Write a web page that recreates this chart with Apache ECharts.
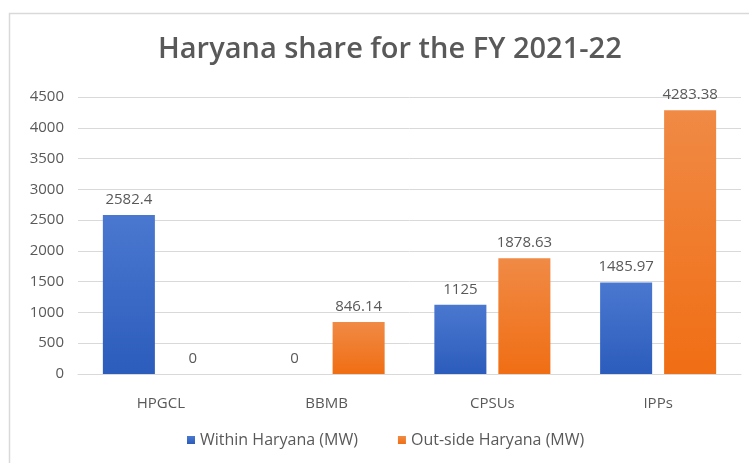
<!DOCTYPE html>
<html>
<head>
<meta charset="utf-8">
<script src="https://cdn.jsdelivr.net/npm/echarts@6/dist/echarts.min.js"></script>
<style>
  html, body { margin: 0; padding: 0; background: #fff; }
  #chart { width: 749px; height: 463px; }
</style>
</head>
<body>
<div id="chart"></div>
<script>
const categories = ["HPGCL", "BBMB", "CPSUs", "IPPs"];
const withinHaryana = [2582.4, 0, 1125, 1485.97];
const outsideHaryana = [0, 846.14, 1878.63, 4283.38];
const seriesNames = ["Within Haryana (MW)", "Out-side Haryana (MW)"];

const chart = echarts.init(document.getElementById("chart"));
const textColor = "#595959";
const font = "Open Sans";

function grad(top, bottom) {
  return new echarts.graphic.LinearGradient(0, 0, 0, 1, [
    { offset: 0, color: top },
    { offset: 1, color: bottom },
  ]);
}

const label = {
  show: true,
  position: "top",
  distance: 8,
  color: textColor,
  fontFamily: font,
  fontSize: 15,
};

chart.setOption({
  backgroundColor: "#fff",
  animation: false,
  graphic: [
    {
      type: "rect",
      shape: { x: 9.5, y: 13.5, width: 760, height: 470 },
      style: { fill: "none", stroke: "#d9d9d9", lineWidth: 1.5 },
      silent: true,
    },
  ],
  title: {
    text: "Haryana share for the FY 2021-22",
    left: 153,
    top: 30,
    textStyle: {
      color: textColor,
      fontFamily: font,
      fontWeight: 600,
      fontSize: 29,
    },
  },
  legend: {
    top: 427,
    left: 182,
    itemWidth: 8,
    itemHeight: 8,
    itemGap: 40,
    icon: "rect",
    textStyle: { color: textColor, fontFamily: font, fontSize: 16 },
    data: seriesNames,
  },
  grid: { left: 78, right: 8, top: 97, bottom: 89 },
  xAxis: {
    type: "category",
    data: categories,
    axisTick: { show: false },
    axisLine: { lineStyle: { color: "#d9d9d9" } },
    axisLabel: { color: textColor, fontFamily: font, fontSize: 15, margin: 22 },
  },
  yAxis: {
    type: "value",
    min: 0,
    max: 4500,
    interval: 500,
    axisLine: { show: false },
    axisTick: { show: false },
    axisLabel: {
      color: textColor,
      fontFamily: font,
      fontSize: 15,
      margin: 14,
      formatter: (v) => String(v),
    },
    splitLine: { lineStyle: { color: "#d9d9d9" } },
  },
  series: [
    {
      name: seriesNames[0],
      type: "bar",
      data: withinHaryana,
      barGap: "23%",
      barCategoryGap: "30%",
      itemStyle: { color: grad("#4a78d0", "#2c5cbc") },
      label: label,
    },
    {
      name: seriesNames[1],
      type: "bar",
      data: outsideHaryana,
      itemStyle: { color: grad("#f08a45", "#f06e14") },
      label: label,
    },
  ],
});
</script>
</body>
</html>
